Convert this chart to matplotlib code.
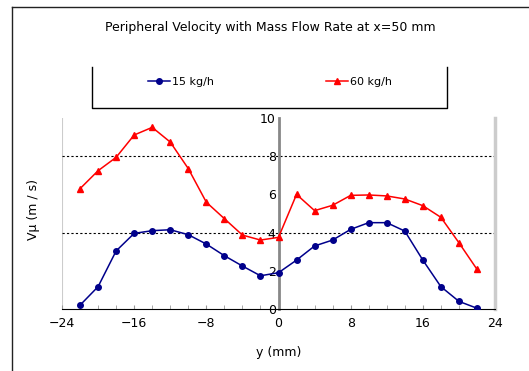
import matplotlib.pyplot as plt
from matplotlib.lines import Line2D

y_pos = [-22, -20, -18, -16, -14, -12, -10, -8, -6, -4, -2, 0,
         2, 4, 6, 8, 10, 12, 14, 16, 18, 20, 22]
v_15 = [0.2, 1.17, 3.04, 3.96, 4.1, 4.15, 3.89, 3.4, 2.79, 2.25, 1.74, 1.9,
        2.56, 3.3, 3.61, 4.17, 4.52, 4.52, 4.08, 2.56, 1.17, 0.4, 0.04]
v_60 = [6.3, 7.24, 7.94, 9.11, 9.51, 8.74, 7.35, 5.59, 4.73, 3.87, 3.61, 3.75,
        6.0, 5.15, 5.43, 5.95, 5.97, 5.92, 5.76, 5.41, 4.8, 3.47, 2.08]
labels = ['15 kg/h', '60 kg/h']
x_ticks = [-24, -16, -8, 0, 8, 16, 24]
y_ticks = [0, 2, 4, 6, 8, 10]
grid_levels = [4, 8]

fig = plt.figure(figsize=(5.29, 3.71), dpi=100)
fig.patch.set_facecolor('white')
W, H = 529, 371

# outer frame (left and top edges)
fig.add_artist(Line2D([12 / W, 12 / W], [0, 1 - 7 / H], color='#222222', lw=1))
fig.add_artist(Line2D([12 / W, 1], [1 - 7 / H, 1 - 7 / H], color='#222222', lw=1))

fig.text(270 / W, 1 - 28 / H, 'Peripheral Velocity with Mass Flow Rate at x=50 mm',
         ha='center', va='center', fontsize=9)

# legend box (left, bottom, right)
lx0, lx1, ly0, ly1 = 92 / W, 447 / W, 1 - 108 / H, 1 - 67 / H
fig.add_artist(Line2D([lx0, lx0, lx1, lx1], [ly1, ly0, ly0, ly1], color='black', lw=1))

ax = fig.add_axes([62 / W, 1 - 309 / H, (495 - 62) / W, (309 - 118) / H])
ax.set_xlim(-24, 24)
ax.set_ylim(0, 10)

for g in grid_levels:
    ax.axhline(g, color='black', lw=0.8, ls=(0, (2, 2)), zorder=1)

h1, = ax.plot(y_pos, v_15, color='#00008b', marker='o', ms=4, lw=1.1, zorder=3)
h2, = ax.plot(y_pos, v_60, color='red', marker='^', ms=4.5, lw=1.1, zorder=3)

ax.spines['top'].set_visible(False)
ax.spines['left'].set_position(('data', 0))
ax.spines['left'].set_color('#888888')
ax.spines['left'].set_linewidth(2)
ax.spines['right'].set_color('#cccccc')
ax.spines['right'].set_linewidth(2.5)
ax.spines['bottom'].set_color('black')
ax.axvline(-24, color='#cccccc', lw=1.5, zorder=0)

ax.set_xticks(x_ticks)
ax.set_xticks(range(-24, 25, 2), minor=True)
ax.set_yticks(y_ticks)
ax.tick_params(axis='x', which='both', direction='in', length=3, color='#999999',
               labelsize=9, pad=6)
ax.tick_params(axis='y', length=0, labelsize=9, pad=2)

ax.set_xlabel('y (mm)', fontsize=9, labelpad=11)
fig.text(34 / W, 1 - 210 / H, 'Vμ (m / s)', rotation=90, ha='center', va='center',
         fontsize=9)

fig.legend([h1, h2], labels, loc='center', ncol=2, frameon=False,
           bbox_to_anchor=(270 / W, 1 - 82 / H), fontsize=8,
           handlelength=2, handletextpad=0.2, columnspacing=10)

fig.savefig('out.png', dpi=100)
